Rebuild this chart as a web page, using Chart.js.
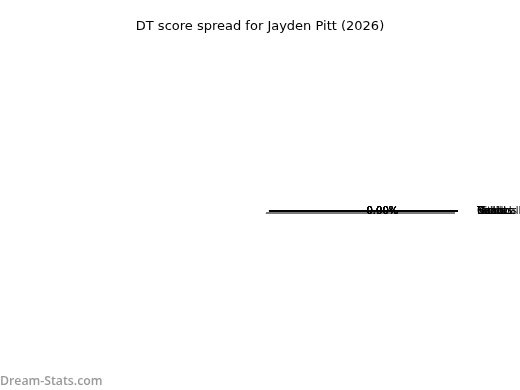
<!DOCTYPE html>
<html>
<head>
<meta charset="utf-8">
<script src="https://cdn.jsdelivr.net/npm/chart.js@4/dist/chart.umd.min.js"></script>
<style>
  html, body { margin: 0; padding: 0; background: #fff; }
  #wrap { width: 520px; height: 390px; }
</style>
</head>
<body>
<div id="wrap"><canvas id="myChart"></canvas></div>
<script>
// all categories scored zero, so every wedge collapses onto angle 0
const categories = ["Kicks", "Marks", "Tackles", "Hitouts", "Goals", "Behinds", "Handball"];
const values = [0, 0, 0, 0, 0, 0, 0];
const chartTitle = "DT score spread for Jayden Pitt (2026)";
const watermark = "Dream-Stats.com";

const total = values.reduce((a, b) => a + b, 0);

// wedge edges in unit-radius coords
const wedges = [];
let start = 0;
values.forEach((v, i) => {
  const frac = total > 0 ? v / total : 0;
  const end = start + frac * 2 * Math.PI;
  wedges.push({ label: categories[i], start: start, end: end, pct: frac * 100 });
  start = end;
});

const datasets = [];
// shadow first, then the wedge edge
wedges.forEach((w) => {
  datasets.push({
    data: [{ x: -0.016, y: -0.012 }, { x: Math.cos(w.end) - 0.016, y: Math.sin(w.end) - 0.012 }],
    borderColor: "rgba(120,120,120,0.8)",
    borderWidth: 1.5,
    showLine: true,
    pointRadius: 0,
  });
});
wedges.forEach((w) => {
  datasets.push({
    data: [{ x: 0, y: 0 }, { x: Math.cos(w.start), y: Math.sin(w.start) }],
    borderColor: "#000",
    borderWidth: 1,
    showLine: true,
    pointRadius: 0,
  });
});

const pieText = {
  id: "pieText",
  afterDatasetsDraw(chart) {
    const ctx = chart.ctx;
    const xs = chart.scales.x;
    const ys = chart.scales.y;
    ctx.save();
    ctx.fillStyle = "#000";
    ctx.font = "10px 'DejaVu Sans'";
    ctx.textBaseline = "middle";
    wedges.forEach((w) => {
      const mid = (w.start + w.end) / 2;
      ctx.textAlign = "center";
      ctx.fillText(w.pct.toFixed(2) + "%", xs.getPixelForValue(0.6 * Math.cos(mid)), ys.getPixelForValue(0.6 * Math.sin(mid)));
      ctx.textAlign = Math.cos(mid) >= 0 ? "left" : "right";
      ctx.fillText(w.label, xs.getPixelForValue(1.1 * Math.cos(mid)), ys.getPixelForValue(1.1 * Math.sin(mid)));
    });
    ctx.font = "600 12.3px 'Open Sans'";
    ctx.fillStyle = "#999";
    ctx.textAlign = "left";
    ctx.textBaseline = "alphabetic";
    ctx.fillText(watermark, 0, 385);
    ctx.restore();
  },
};

new Chart(document.getElementById("myChart"), {
  type: "scatter",
  data: { datasets: datasets },
  options: {
    responsive: true,
    maintainAspectRatio: false,
    animation: false,
    layout: { padding: 0 },
    scales: {
      x: { display: false, min: -1.423, max: 1.328 },
      y: { display: false, min: -0.947, max: 0.933 },
    },
    plugins: {
      legend: { display: false },
      tooltip: { enabled: false },
      title: {
        display: true,
        text: chartTitle,
        color: "#000",
        font: { family: "'DejaVu Sans'", size: 13, weight: "normal" },
        padding: { top: 19, bottom: 0 },
      },
    },
  },
  plugins: [pieText],
});
</script>
</body>
</html>
